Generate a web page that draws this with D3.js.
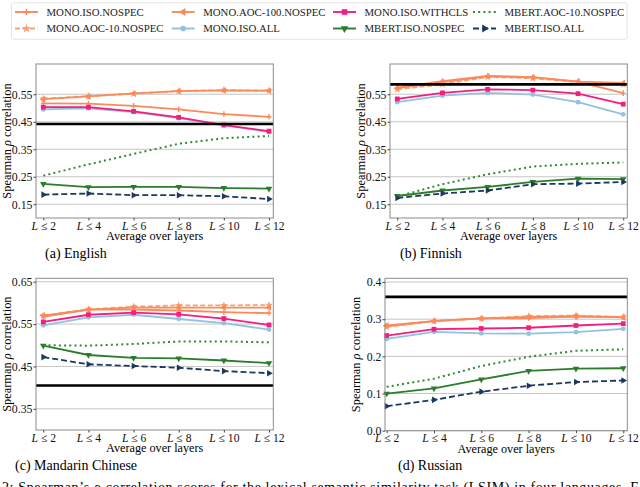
<!DOCTYPE html>
<html lang="en">
<head>
  <meta charset="UTF-8">
  <title>LSIM Spearman correlation over layers</title>
  <script src="https://cdn.jsdelivr.net/npm/d3@7"></script>
  <style>
    body { margin: 0; background: #fff; }
    svg { display: block; }
    svg text { font-family: "Liberation Serif", "DejaVu Serif", serif; }
    .grid line { stroke: #b8b8b8; stroke-width: 0.8; }
    .axis path { display: none; }
    .axis line { stroke: #444; }
  </style>
</head>
<body>
  <svg id="chart" width="640" height="487"></svg>
  <script>
    // x values: average over layers L <= n
    const layers = [2, 4, 6, 8, 10, 12];

    // series in plotting order
    const seriesNames = [
      "MONO.ISO.NOSPEC", "MONO.AOC-10.NOSPEC", "MONO.AOC-100.NOSPEC", "MONO.ISO.ALL",
      "MONO.ISO.WITHCLS", "MBERT.ISO.NOSPEC", "MBERT.AOC-10.NOSPEC", "MBERT.ISO.ALL"
    ];

    // one row per series, same order as seriesNames
    const englishScores = [
      [0.517, 0.516, 0.508, 0.495, 0.478, 0.468],
      [0.534, 0.543, 0.552, 0.562, 0.565, 0.563],
      [0.532, 0.542, 0.553, 0.561, 0.564, 0.563],
      [0.495, 0.499, 0.485, 0.463, 0.438, 0.412],
      [0.503, 0.503, 0.488, 0.466, 0.438, 0.416],
      [0.224, 0.212, 0.213, 0.213, 0.209, 0.207],
      [0.254, 0.295, 0.333, 0.370, 0.390, 0.398],
      [0.185, 0.189, 0.183, 0.183, 0.179, 0.169]
    ];
    const finnishScores = [
      [0.574, 0.598, 0.617, 0.612, 0.596, 0.554],
      [0.568, 0.586, 0.613, 0.608, 0.594, 0.586],
      [0.572, 0.594, 0.615, 0.611, 0.596, 0.591],
      [0.521, 0.545, 0.555, 0.549, 0.521, 0.477],
      [0.533, 0.555, 0.568, 0.565, 0.552, 0.514],
      [0.180, 0.200, 0.213, 0.231, 0.243, 0.241],
      [0.178, 0.223, 0.259, 0.287, 0.297, 0.302],
      [0.173, 0.189, 0.200, 0.223, 0.225, 0.231]
    ];
    const chineseScores = [
      [0.567, 0.584, 0.584, 0.582, 0.578, 0.576],
      [0.570, 0.585, 0.591, 0.594, 0.594, 0.595],
      [0.570, 0.584, 0.589, 0.589, 0.589, 0.589],
      [0.547, 0.566, 0.572, 0.562, 0.552, 0.537],
      [0.555, 0.572, 0.577, 0.573, 0.563, 0.548],
      [0.499, 0.477, 0.470, 0.469, 0.464, 0.458],
      [0.500, 0.499, 0.503, 0.509, 0.509, 0.507],
      [0.472, 0.455, 0.451, 0.447, 0.439, 0.434]
    ];
    const russianScores = [
      [0.281, 0.295, 0.302, 0.303, 0.307, 0.306],
      [0.279, 0.295, 0.302, 0.308, 0.310, 0.306],
      [0.283, 0.295, 0.302, 0.306, 0.308, 0.305],
      [0.247, 0.266, 0.262, 0.261, 0.265, 0.274],
      [0.256, 0.273, 0.275, 0.277, 0.283, 0.288],
      [0.100, 0.114, 0.138, 0.161, 0.167, 0.168],
      [0.118, 0.140, 0.174, 0.199, 0.215, 0.219],
      [0.066, 0.083, 0.105, 0.121, 0.131, 0.135]
    ];

    // black horizontal reference line per language
    const baselines = [0.442, 0.586, 0.405, 0.360];
    const panelTitles = ["(a) English", "(b) Finnish", "(c) Mandarin Chinese", "(d) Russian"];
    const yTicksTop = [0.15, 0.25, 0.35, 0.45, 0.55];
    const yTicksChinese = [0.35, 0.45, 0.55, 0.65];
    const yTicksRussian = [0.0, 0.1, 0.2, 0.3, 0.4];

    const colors = ["#fb8a5a", "#fca172", "#fb8a5a", "#94c1e0", "#f41d80", "#2b7d2b", "#2e8a35", "#1c385f"];
    const dashes = [null, "5,2.5", null, null, null, null, "2,3.2", "6,3"];
    const markers = ["plus", "star", "tleft", "circle", "square", "tdown", null, "tright"];

    const serif = "Liberation Serif";

    const panels = [
      { scores: englishScores, yDomain: [0.10, 0.66], yTicks: yTicksTop, fmt: ".2f",
        xDomain: [1.677, 12.19], left: 36, right: 273.3, top: 64, bottom: 218, titleX: 45 },
      { scores: finnishScores, yDomain: [0.10, 0.66], yTicks: yTicksTop, fmt: ".2f",
        xDomain: [1.677, 12.18], left: 390, right: 627.3, top: 64, bottom: 218, titleX: 400 },
      { scores: chineseScores, yDomain: [0.30, 0.658], yTicks: yTicksChinese, fmt: ".2f",
        xDomain: [1.677, 12.19], left: 36, right: 273.3, top: 278.3, bottom: 430, titleX: 15 },
      { scores: russianScores, yDomain: [0.0, 0.41], yTicks: yTicksRussian, fmt: ".1f",
        xDomain: [1.93, 12.17], left: 385, right: 627.3, top: 278.3, bottom: 430.7, titleX: 398 }
    ];

    const svg = d3.select("#chart");

    function drawMarker(g, kind, color, s) {
      if (!kind) return;
      if (kind === "plus") {
        g.append("path").attr("d", `M${-s * 0.8},0H${s * 0.8}M0,${-s}V${s}`)
          .attr("stroke", color).attr("stroke-width", 1.4).attr("fill", "none");
      } else if (kind === "square") {
        g.append("rect").attr("x", -s * 0.85).attr("y", -s * 0.85)
          .attr("width", s * 1.7).attr("height", s * 1.7).attr("fill", color);
      } else if (kind === "circle") {
        g.append("circle").attr("r", s * 0.85).attr("fill", color);
      } else if (kind === "star") {
        g.append("path").attr("d", d3.symbol(d3.symbolStar, s * s * 2.6)()).attr("fill", color);
      } else {
        const rot = { tleft: -90, tright: 90, tdown: 180 }[kind];
        g.append("path").attr("d", d3.symbol(d3.symbolTriangle, s * s * 2.4)())
          .attr("transform", `rotate(${rot})`).attr("fill", color);
      }
    }

    panels.forEach((p, pi) => {
      const x = d3.scaleLinear().domain(p.xDomain).range([p.left, p.right]);
      const y = d3.scaleLinear().domain(p.yDomain).range([p.bottom, p.top]);
      const g = svg.append("g");

      // horizontal grid
      g.append("g").attr("class", "grid")
        .selectAll("line").data(p.yTicks).join("line")
        .attr("x1", p.left).attr("x2", p.right)
        .attr("y1", d => y(d)).attr("y2", d => y(d));

      // series
      const line = d3.line().x((d, i) => x(layers[i])).y(d => y(d));
      p.scores.forEach((vals, si) => {
        g.append("path").datum(vals)
          .attr("d", line)
          .attr("fill", "none")
          .attr("stroke", colors[si])
          .attr("stroke-width", si === 6 ? 2 : 1.8)
          .attr("stroke-dasharray", dashes[si]);
        vals.forEach((v, i) => {
          const mg = g.append("g").attr("transform", `translate(${x(layers[i])},${y(v)})`);
          drawMarker(mg, markers[si], colors[si], 2.8);
        });
      });

      // reference line
      g.append("line")
        .attr("x1", p.left).attr("x2", p.right)
        .attr("y1", y(baselines[pi])).attr("y2", y(baselines[pi]))
        .attr("stroke", "#000").attr("stroke-width", 2.6);

      // frame
      g.append("rect")
        .attr("x", p.left).attr("y", p.top)
        .attr("width", p.right - p.left).attr("height", p.bottom - p.top)
        .attr("fill", "none").attr("stroke", "#8c8c8c").attr("stroke-width", 1);

      // axes
      g.append("g").attr("class", "axis")
        .attr("transform", `translate(${p.left},0)`)
        .call(d3.axisLeft(y).tickValues(p.yTicks).tickFormat(d3.format(p.fmt)).tickSize(2.5).tickPadding(1))
        .attr("font-family", serif).attr("font-size", 11.8)
        .selectAll("text").attr("fill", "#111");

      const xa = g.append("g").attr("class", "axis")
        .attr("transform", `translate(0,${p.bottom})`)
        .call(d3.axisBottom(x).tickValues(layers).tickSize(2.5).tickPadding(1))
        .attr("font-family", serif).attr("font-size", 11.6);
      xa.selectAll("text").each(function (d) {
        const t = d3.select(this).text(null).attr("fill", "#111");
        t.append("tspan").attr("font-style", "italic").text("L");
        t.append("tspan").text(" \u2264 " + d);
      });

      // labels
      const cx = (p.left + p.right) / 2;
      g.append("text")
        .attr("x", cx).attr("y", p.bottom + 22.3)
        .attr("text-anchor", "middle").attr("font-size", 12.2)
        .text("Average over layers");

      const yl = g.append("text")
        .attr("transform", `translate(${p.left - 25.5},${(p.top + p.bottom) / 2}) rotate(-90)`)
        .attr("text-anchor", "middle").attr("font-size", 12.4);
      yl.append("tspan").text("Spearman ");
      yl.append("tspan").attr("font-style", "italic").text("\u03c1");
      yl.append("tspan").text(" correlation");

      g.append("text")
        .attr("x", p.titleX)
        .attr("y", p.bottom + 39.5)
        .attr("font-size", 14)
        .text(panelTitles[pi]);
    });

    // legend
    const legend = svg.append("g");
    legend.append("rect")
      .attr("x", 11.5).attr("y", 2.7).attr("width", 615.5).attr("height", 36.6)
      .attr("rx", 2).attr("fill", "#fff").attr("stroke", "#dcdcdc").attr("stroke-width", 0.8);
    const colX = [15, 171.7, 333, 473];
    const rowY = [12, 28.5];
    seriesNames.forEach((name, i) => {
      const lx = colX[Math.floor(i / 2)];
      const ly = rowY[i % 2];
      legend.append("line")
        .attr("x1", lx).attr("x2", lx + 23).attr("y1", ly).attr("y2", ly)
        .attr("stroke", colors[i]).attr("stroke-width", i === 6 ? 2.2 : 1.9)
        .attr("stroke-dasharray", dashes[i]);
      const mg = legend.append("g").attr("transform", `translate(${lx + 11.5},${ly})`);
      drawMarker(mg, markers[i], colors[i], 3.3);
      legend.append("text")
        .attr("x", lx + 31.5).attr("y", ly + 3.7)
        .attr("font-size", 10.8).attr("fill", "#222")
        .text(name);
    });

    // figure caption (cut off by the page edge)
    svg.append("text")
      .attr("x", 2).attr("y", 492)
      .attr("font-size", 14)
      .attr("textLength", 636).attr("lengthAdjust", "spacing")
      .text("2: Spearman\u2019s \u03c1 correlation scores for the lexical semantic similarity task (LSIM) in four languages. F");
  </script>
</body>
</html>
